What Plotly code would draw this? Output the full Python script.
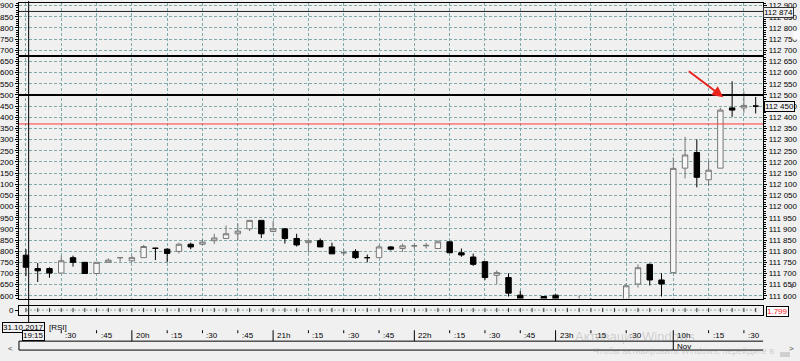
import plotly.graph_objects as go

# ---------------- data ----------------
candle_index = list(range(63))
opens = [111.782, 111.722, 111.722, 111.702, 111.771, 111.750, 111.700, 111.750, 111.771, 111.757,
         111.771, 111.813, 111.809, 111.799, 111.831, 111.831, 111.847, 111.857, 111.878, 111.900,
         111.938, 111.888, 111.900, 111.857, 111.838, 111.847, 111.819, 111.793, 111.799, 111.771,
         111.771, 111.819, 111.812, 111.824, 111.824, 111.812, 111.842, 111.793, 111.774, 111.753,
         111.692, 111.682, 111.603, 111.575, 111.597, 111.603, 111.575, 111.565, 111.580, 111.565,
         111.570, 111.575, 111.653, 111.741, 111.671, 111.704, 112.172, 112.242, 112.120, 112.172,
         112.442, 112.442, 112.450]
highs = [111.809, 111.747, 111.728, 111.780, 111.780, 111.750, 111.750, 111.768, 111.772, 111.780,
         111.828, 111.815, 111.813, 111.838, 111.838, 111.853, 111.878, 111.915, 111.924, 111.938,
         111.938, 111.935, 111.904, 111.878, 111.847, 111.857, 111.838, 111.809, 111.809, 111.785,
         111.828, 111.823, 111.834, 111.834, 111.837, 111.849, 111.846, 111.812, 111.789, 111.753,
         111.714, 111.701, 111.622, 111.585, 111.598, 111.606, 111.585, 111.601, 111.590, 111.585,
         111.585, 111.656, 111.741, 111.745, 111.701, 112.220, 112.312, 112.301, 112.205, 112.442,
         112.561, 112.516, 112.491]
lows = [111.688, 111.662, 111.681, 111.702, 111.731, 111.700, 111.700, 111.750, 111.752, 111.750,
        111.771, 111.760, 111.750, 111.790, 111.809, 111.827, 111.832, 111.857, 111.850, 111.890,
        111.859, 111.888, 111.834, 111.821, 111.794, 111.819, 111.788, 111.780, 111.765, 111.750,
        111.771, 111.803, 111.797, 111.812, 111.812, 111.812, 111.793, 111.775, 111.734, 111.671,
        111.653, 111.597, 111.560, 111.540, 111.560, 111.560, 111.545, 111.550, 111.550, 111.545,
        111.550, 111.565, 111.637, 111.646, 111.597, 111.700, 112.126, 112.086, 112.093, 112.172,
        112.402, 112.420, 112.417]
closes = [111.728, 111.712, 111.702, 111.757, 111.750, 111.700, 111.750, 111.760, 111.771, 111.771,
          111.821, 111.813, 111.790, 111.831, 111.819, 111.841, 111.859, 111.878, 111.890, 111.938,
          111.878, 111.900, 111.857, 111.828, 111.847, 111.819, 111.788, 111.793, 111.771, 111.771,
          111.819, 111.809, 111.824, 111.824, 111.826, 111.842, 111.793, 111.783, 111.741, 111.682,
          111.704, 111.612, 111.575, 111.555, 111.575, 111.575, 111.560, 111.580, 111.565, 111.570,
          111.575, 111.645, 111.726, 111.671, 111.653, 112.171, 112.231, 112.131, 112.163, 112.432,
          112.432, 112.453, 112.450]
indicator_values = [0, 0, 0, 0, 0, 0, 0, 0, 0, 0, 0, 0, 0, 0, 0, 0, 0, 0, 0, 0, 0,
                    0, 0, 0, 0, 0, 0, 0, 0, 0, 0, 0, 0, 0, 0, 0, 0, 0, 0, 0, 0, 0,
                    0, 0, 0, 0, 0, 0, 0, 0, 0, 0, 0, 0, 0, 0, 0, 0, 0, 0, 0, 0, 0]

price_tickvals = [111.60, 111.65, 111.70, 111.75, 111.80, 111.85, 111.90, 111.95, 112.00,
                  112.05, 112.10, 112.15, 112.20, 112.25, 112.30, 112.35, 112.40, 112.45,
                  112.50, 112.55, 112.60, 112.65, 112.70, 112.75, 112.80, 112.85, 112.90]
left_ticktext = ["600", "650", "700", "750", "800", "850", "900", "950", "000",
                 "050", "100", "150", "200", "250", "300", "350", "400", "450",
                 "500", "550", "600", "650", "700", "750", "800", "850", "900"]
right_ticktext = ["111 600", "111 650", "111 700", "111 750", "111 800", "111 850", "111 900",
                  "111 950", "112 000", "112 050", "112 100", "112 150", "112 200", "112 250",
                  "112 300", "112 350", "112 400", "112 450", "112 500", "112 550", "112 600",
                  "112 650", "112 700", "112 750", "112 800", "112 850", "112 900"]

time_tick_index = [0, 3, 6, 9, 12, 15, 18, 21, 24, 27, 30, 33, 36, 39, 42, 45, 48, 51, 55, 58, 61]
time_tick_text = ["19:15", ":30", ":45", "20h", ":15", ":30", ":45", "21h", ":15", ":30", ":45",
                  "22h", ":15", ":30", ":45", "23h", ":15", ":30", "10h", ":15", ":30"]
hour_tick_index = [9, 21, 33, 45, 55]

level_prices = [112.874, 112.675, 112.500, 112.370]
current_price = 112.450
top_level_label = "112 874"
current_price_label = "112 450"
indicator_label = "1.799"
date_label = "31.10.2017"
cursor_time_label = "19:15"
cursor_index = 0.23
arrow_target = (59.25, 112.490)

# ---------------- layout helpers ----------------
W, H = 800, 361
def px(xp):
    return xp / W
def py(yp):
    return 1 - yp / H

BG = "#f0f0f0"
GRID = "#80aaaa"
FONT = "Liberation Sans, Arial, sans-serif"
x_range = [-0.593, 62.63]
y_range = [111.588, 112.912]

fig = go.Figure()
fig.add_trace(go.Candlestick(
    x=candle_index, open=opens, high=highs, low=lows, close=closes,
    increasing=dict(line=dict(color="#777777", width=1), fillcolor="#f7f7f7"),
    decreasing=dict(line=dict(color="#000000", width=1), fillcolor="#000000"),
    whiskerwidth=0, xaxis="x", yaxis="y", showlegend=False, hoverinfo="skip"))
fig.add_trace(go.Scatter(x=candle_index, y=closes, xaxis="x", yaxis="y2", mode="lines",
                         line=dict(width=0), opacity=0, showlegend=False, hoverinfo="skip"))
fig.add_trace(go.Scatter(x=candle_index, y=indicator_values, xaxis="x2", yaxis="y3",
                         mode="lines+markers",
                         line=dict(color=GRID, width=1, dash="2px,2px"),
                         marker=dict(symbol="line-ns", size=3, line=dict(color="#333333", width=1)),
                         showlegend=False, hoverinfo="skip"))

shapes = []
# horizontal level lines
level_styles = [("#222222", 1), ("#000000", 2), ("#000000", 2), ("#ff3b3b", 1)]
for lv, (col, wd) in zip(level_prices, level_styles):
    shapes.append(dict(type="line", xref="x domain", yref="y", x0=0, x1=1, y0=lv, y1=lv,
                       line=dict(color=col, width=wd), layer="above"))
# crosshair
shapes.append(dict(type="line", xref="x", yref="paper", x0=cursor_index, x1=cursor_index,
                   y0=py(0), y1=py(326), line=dict(color="#000000", width=1)))
# time axis marks
for ti in time_tick_index[1:]:
    if ti in hour_tick_index:
        shapes.append(dict(type="line", xref="x", yref="paper", x0=ti, x1=ti,
                           y0=py(332), y1=py(343), line=dict(color="#000000", width=1)))
    else:
        shapes.append(dict(type="line", xref="x", yref="paper", x0=ti, x1=ti,
                           y0=py(332), y1=py(335), line=dict(color="#000000", width=1)))
shapes += [
    dict(type="line", xref="paper", yref="paper", x0=px(17), x1=px(763), y0=py(343), y1=py(343),
         line=dict(color="#000000", width=1)),
    dict(type="line", xref="paper", yref="paper", x0=px(17), x1=px(763), y0=py(352), y1=py(352),
         line=dict(color="#000000", width=1)),
    dict(type="line", xref="paper", yref="paper", x0=px(17), x1=px(17), y0=py(343), y1=py(352),
         line=dict(color="#000000", width=1)),
    dict(type="line", xref="x", yref="paper", x0=hour_tick_index[-1], x1=hour_tick_index[-1],
         y0=py(343), y1=py(352), line=dict(color="#000000", width=1)),
    # scrollbar thumbs
    dict(type="rect", xref="paper", yref="paper", x0=px(780), x1=px(790), y0=py(359), y1=py(354),
         fillcolor="#cfcfcf", line=dict(width=0)),
    dict(type="rect", xref="paper", yref="paper", x0=px(793), x1=px(800), y0=py(39), y1=py(30),
         fillcolor="#fafafa", line=dict(width=0)),
]

annotations = []
for ti, tt in zip(time_tick_index[1:], time_tick_text[1:]):
    annotations.append(dict(x=ti, xref="x", y=py(337.5), yref="paper", text=tt, showarrow=False,
                            xanchor="left", yanchor="middle", xshift=2,
                            font=dict(size=8, color="#000000", family=FONT)))
annotations += [
    dict(x=hour_tick_index[-1], xref="x", y=py(348), yref="paper", text="Nov", showarrow=False,
         xanchor="left", yanchor="middle", xshift=2, font=dict(size=8, color="#000000", family=FONT)),
    dict(x=px(43), xref="paper", y=py(329), yref="paper", text=date_label, showarrow=False,
         xanchor="right", yanchor="middle", bordercolor="#000000", borderwidth=1, borderpad=0,
         bgcolor=BG, font=dict(size=8, color="#000000", family=FONT)),
    dict(x=px(45), xref="paper", y=py(329), yref="paper", text="[RSI]", showarrow=False,
         xanchor="left", yanchor="middle", font=dict(size=8, color="#000000", family=FONT)),
    dict(x=px(43), xref="paper", y=py(337), yref="paper", text=cursor_time_label, showarrow=False,
         xanchor="right", yanchor="middle", bordercolor="#000000", borderwidth=1, borderpad=0,
         bgcolor=BG, font=dict(size=8, color="#000000", family=FONT)),
    dict(x=px(763), xref="paper", y=level_prices[0], yref="y", text=top_level_label, showarrow=False,
         xanchor="left", yanchor="middle", yshift=-1, bordercolor="#333333", borderwidth=1, borderpad=0,
         bgcolor=BG, font=dict(size=8, color="#000000", family=FONT)),
    dict(x=px(764), xref="paper", y=current_price, yref="y", text=current_price_label, showarrow=False,
         xanchor="left", yanchor="middle", bordercolor="#000000", borderwidth=1, borderpad=0,
         bgcolor=BG, font=dict(size=8, color="#000000", family=FONT)),
    dict(x=px(766), xref="paper", y=py(313), yref="paper", text=indicator_label, showarrow=False,
         xanchor="left", yanchor="middle", bordercolor="#000000", borderwidth=1, borderpad=0,
         bgcolor="#ffffff", font=dict(size=8, color="#ff2020", family=FONT)),
    # red arrow
    dict(x=arrow_target[0], y=arrow_target[1], xref="x", yref="y", text="", showarrow=True,
         ax=-36, ay=-27, arrowhead=2, arrowsize=1.1, arrowwidth=2, arrowcolor="#e8231d"),
    # windows watermark
    dict(x=px(572), xref="paper", y=py(338), yref="paper", text="Активация Windows", showarrow=False,
         xanchor="left", yanchor="middle", font=dict(size=13, color="rgba(120,120,120,0.3)", family=FONT)),
    dict(x=px(590), xref="paper", y=py(353), yref="paper",
         text="Чтобы активировать Windows, перейдите в", showarrow=False,
         xanchor="left", yanchor="middle", font=dict(size=9, color="rgba(120,120,120,0.3)", family=FONT)),
    # scrollbar arrows
    dict(x=px(796), xref="paper", y=py(11), yref="paper", text="^", showarrow=False,
         font=dict(size=8, color="#444444", family=FONT)),
    dict(x=px(796), xref="paper", y=py(293), yref="paper", text="v", showarrow=False,
         font=dict(size=8, color="#444444", family=FONT)),
    dict(x=px(4), xref="paper", y=py(357), yref="paper", text="<", showarrow=False,
         font=dict(size=8, color="#444444", family=FONT)),
    dict(x=px(796), xref="paper", y=py(357), yref="paper", text=">", showarrow=False,
         font=dict(size=8, color="#444444", family=FONT)),
]

axis_font = dict(size=8, color="#000000", family=FONT)
fig.update_layout(
    width=W, height=H, margin=dict(l=0, r=0, t=0, b=0),
    paper_bgcolor=BG, plot_bgcolor=BG, showlegend=False, boxgap=0.34,
    xaxis=dict(domain=[px(17), px(763)], range=x_range, anchor="y",
               tickmode="array", tickvals=time_tick_index, showticklabels=False, ticks="",
               showgrid=True, gridcolor=GRID, griddash="3px,2px", gridwidth=1,
               zeroline=False, showline=True, linecolor="#000000", linewidth=1, mirror=True,
               rangeslider=dict(visible=False)),
    yaxis=dict(domain=[py(300), py(2)], range=y_range, anchor="x", side="left",
               tickmode="array", tickvals=price_tickvals, ticktext=left_ticktext,
               ticks="outside", ticklen=3, tickcolor="#000000", tickfont=axis_font,
               showgrid=True, gridcolor=GRID, griddash="3px,2px", gridwidth=1, zeroline=False,
               showline=True, linecolor="#000000", linewidth=1,
               minor=dict(dtick=0.01, tick0=111.6, ticks="outside", ticklen=2,
                          tickcolor="#000000", showgrid=False)),
    yaxis2=dict(overlaying="y", side="right", range=y_range, anchor="x",
                tickmode="array", tickvals=price_tickvals, ticktext=right_ticktext,
                ticks="outside", ticklen=3, tickcolor="#000000", tickfont=axis_font,
                showgrid=False, zeroline=False, showline=True, linecolor="#000000", linewidth=1,
                minor=dict(dtick=0.01, tick0=111.6, ticks="outside", ticklen=2,
                           tickcolor="#000000", showgrid=False)),
    xaxis2=dict(domain=[px(17), px(763)], range=x_range, anchor="y3", showticklabels=False,
                ticks="", showgrid=False, zeroline=False, showline=True, linecolor="#000000",
                mirror=True),
    yaxis3=dict(domain=[py(317), py(308)], range=[-1.2, 0.8], anchor="x2",
                tickmode="array", tickvals=[0], ticktext=["0"], ticks="outside", ticklen=3,
                tickcolor="#000000", tickfont=axis_font, showgrid=False, zeroline=False,
                showline=True, linecolor="#000000", mirror=True),
    shapes=shapes, annotations=annotations,
)

fig.write_html("out.html", config={"displayModeBar": False},
               post_script="document.body.style.margin='0';document.body.style.overflow='hidden';")
